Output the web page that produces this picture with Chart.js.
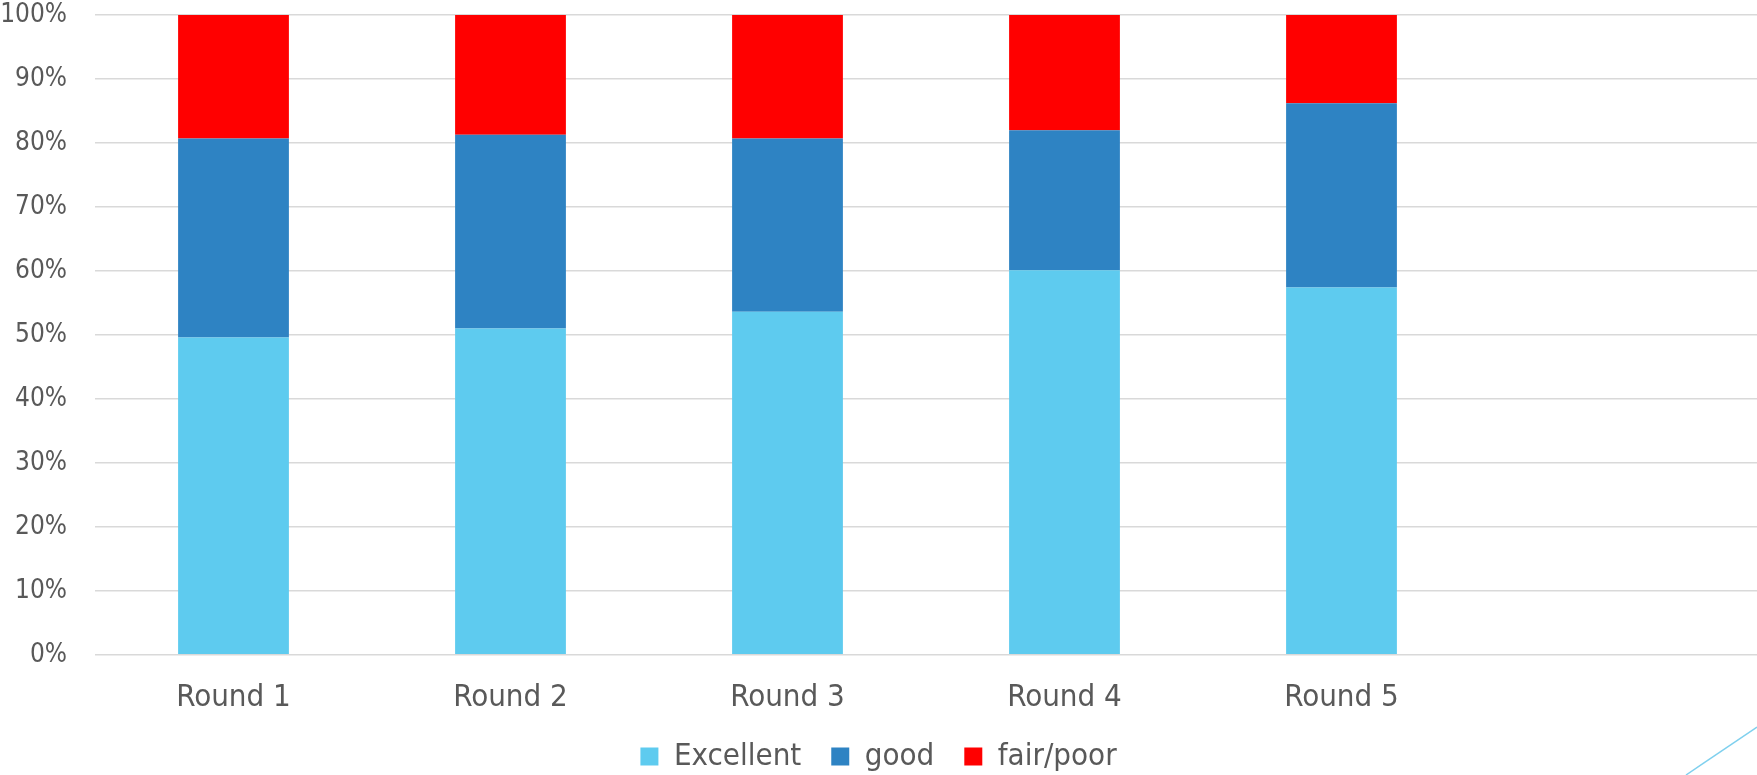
<!DOCTYPE html>
<html>
<head>
<meta charset="utf-8">
<script src="https://cdn.jsdelivr.net/npm/chart.js@4"></script>
<style>
  html, body { margin: 0; padding: 0; background: #fff; }
  #wrap { position: relative; width: 1757px; height: 775px; }
  #deco { position: absolute; left: 0; top: 0; pointer-events: none; }
</style>
</head>
<body>
<div id="wrap">
  <canvas id="myChart" width="1757" height="775"></canvas>
  <svg id="deco" width="1757" height="775">
    <line x1="1686" y1="775" x2="1757" y2="727" stroke="#7fd0ee" stroke-width="1.5"/>
  </svg>
</div>
<script>
// Rounds (last slot is empty in the original)
const rounds = ['Round 1', 'Round 2', 'Round 3', 'Round 4', 'Round 5', ''];

// Share of answers per round, in %
const excellent = [49.6, 51.0, 53.6, 60.1, 57.4];
const good = [31.1, 30.3, 27.1, 21.9, 28.8];
const fairPoor = [19.3, 18.7, 19.3, 18.0, 13.8];

const yTicks = [0, 10, 20, 30, 40, 50, 60, 70, 80, 90, 100];

const family = '"DejaVu Sans Condensed", "DejaVu Sans", sans-serif';
const font = { family: family, size: 31 };
const yFont = { family: family, size: 26 };
const textColor = '#595959';

const chartData = {
  labels: rounds,
  datasets: [
    { label: 'Excellent', data: excellent, backgroundColor: '#5ecbef' },
    { label: 'good', data: good, backgroundColor: '#2e83c3' },
    { label: 'fair/poor', data: fairPoor, backgroundColor: '#ff0000' }
  ]
};

new Chart(document.getElementById('myChart').getContext('2d'), {
  type: 'bar',
  data: chartData,
  options: {
    responsive: false,
    animation: false,
    layout: { padding: { top: 0, right: 0, left: 0, bottom: -7 } },
    datasets: {
      bar: { categoryPercentage: 1, barPercentage: 0.4 }
    },
    plugins: {
      tooltip: { enabled: false },
      legend: {
        position: 'bottom',
        labels: {
          font: font,
          color: textColor,
          boxWidth: 18,
          boxHeight: 18,
          padding: 30
        }
      }
    },
    scales: {
      x: {
        stacked: true,
        grid: { display: false },
        border: { display: false },
        ticks: { font: font, color: textColor, padding: 17 },
        // pull the legend closer to the round labels
        afterFit: (axis) => { axis.height -= 23; }
      },
      y: {
        stacked: true,
        min: 0,
        max: 100,
        afterBuildTicks: (axis) => { axis.ticks = yTicks.map(v => ({ value: v })); },
        afterFit: (axis) => {
          axis.width = 95;
          axis.paddingTop = 15;
          axis.paddingBottom = 15;
        },
        grid: { color: '#d9d9d9', lineWidth: 1.5, drawTicks: false },
        border: { display: false },
        ticks: {
          font: yFont,
          color: textColor,
          padding: 28,
          callback: (v) => v + '%'
        }
      }
    }
  }
});
</script>
</body>
</html>
